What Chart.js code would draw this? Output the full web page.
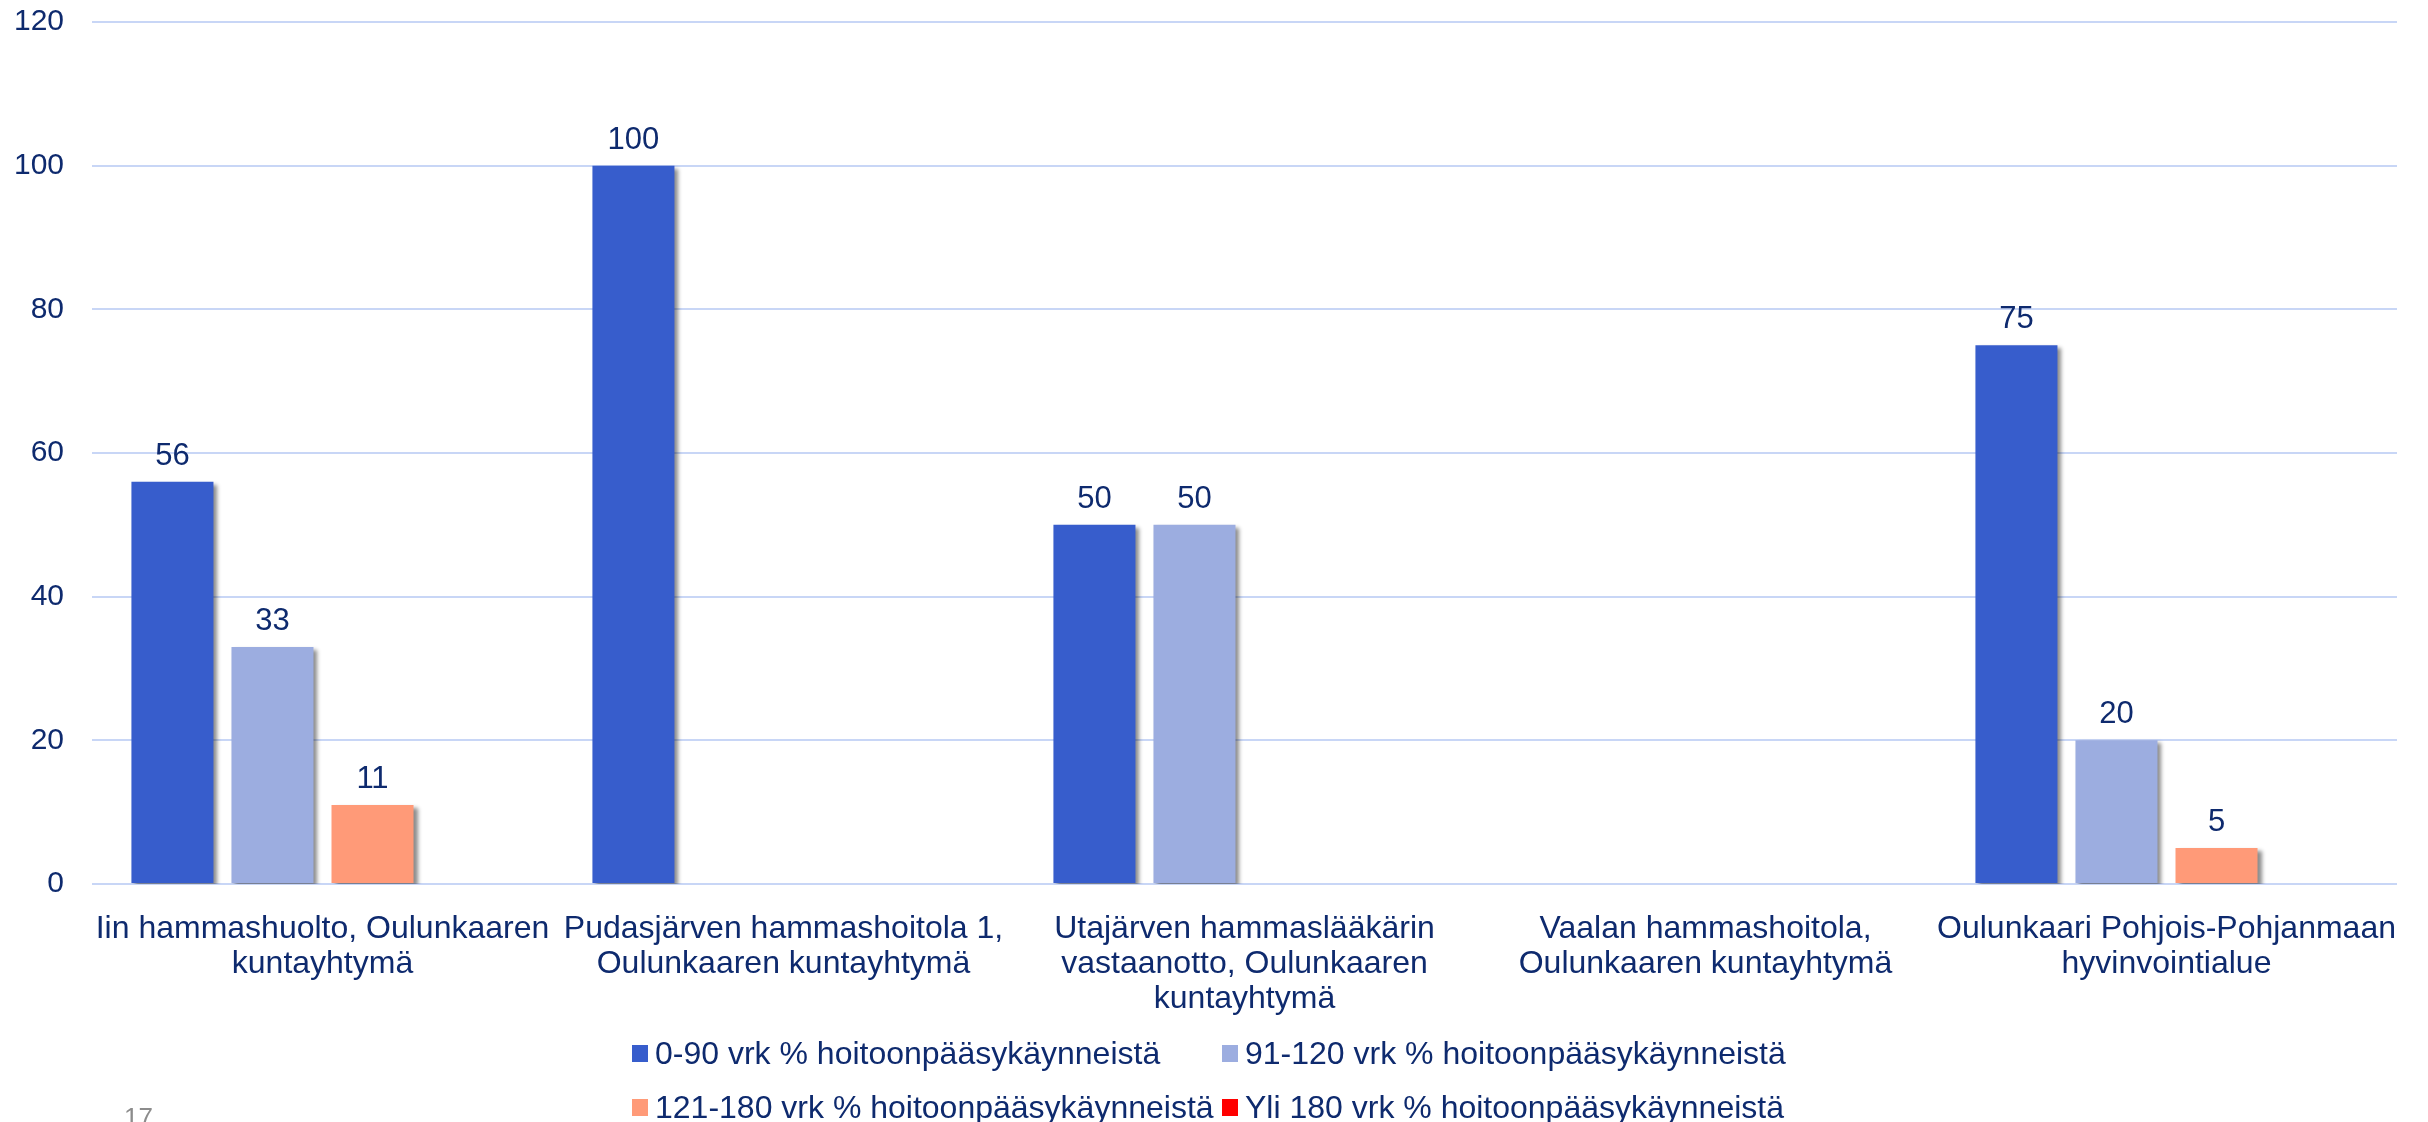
<!DOCTYPE html>
<html lang="fi">
<head>
<meta charset="UTF-8">
<title>Hoitoonpääsy hammashoitoon</title>
<style>
  html, body { margin: 0; padding: 0; background: #fff; }
  .wrap { position: relative; width: 2428px; height: 1122px; overflow: hidden; }
  .page-no {
    position: absolute; left: 124px; top: 1102px;
    font: 26px Arial, "Liberation Sans", sans-serif; color: #8c8c8c;
  }
</style>
</head>
<body>
<div class="wrap">
  <canvas id="chart" width="2428" height="1122"></canvas>
  <div class="page-no">17</div>
</div>

<script src="https://cdn.jsdelivr.net/npm/chart.js"></script>
<script>
// categories (toimipisteet), wrapped as in the original
const categories = [
  ['Iin hammashuolto, Oulunkaaren', 'kuntayhtymä'],
  ['Pudasjärven hammashoitola 1,', 'Oulunkaaren kuntayhtymä'],
  ['Utajärven hammaslääkärin', 'vastaanotto, Oulunkaaren', 'kuntayhtymä'],
  ['Vaalan hammashoitola,', 'Oulunkaaren kuntayhtymä'],
  ['Oulunkaari Pohjois-Pohjanmaan', 'hyvinvointialue']
];

const seriesNames = [
  '0-90 vrk % hoitoonpääsykäynneistä',
  '91-120 vrk % hoitoonpääsykäynneistä',
  '121-180 vrk % hoitoonpääsykäynneistä',
  'Yli 180 vrk % hoitoonpääsykäynneistä'
];

// values (%), null = no bar
const v0_90    = [56, 100, 50, null, 75];
const v91_120  = [33, null, 50, null, 20];
const v121_180 = [11, null, null, null, 5];
const vYli180  = [null, null, null, null, null];

const yTicks = [0, 20, 40, 60, 80, 100, 120];

const seriesColors = ['#375dcc', '#9cade0', '#ff9a78', '#ff0000'];
const textColor = '#0e2a6e';
const fontFamily = 'Arial, "Liberation Sans", sans-serif';

const seriesValues = [v0_90, v91_120, v121_180, vYli180];

// soft shadow behind bars
const barShadow = {
  id: 'barShadow',
  beforeDatasetDraw(chart) {
    const ctx = chart.ctx;
    ctx.save();
    ctx.shadowColor = 'rgba(0,0,0,0.45)';
    ctx.shadowBlur = 4;
    ctx.shadowOffsetX = 4;
    ctx.shadowOffsetY = 3;
  },
  afterDatasetDraw(chart) {
    chart.ctx.restore();
  }
};

// numbers above the bars
const valueLabels = {
  id: 'valueLabels',
  afterDatasetsDraw(chart) {
    const ctx = chart.ctx;
    ctx.save();
    ctx.font = '31px ' + fontFamily;
    ctx.fillStyle = textColor;
    ctx.textAlign = 'center';
    ctx.textBaseline = 'alphabetic';
    chart.data.datasets.forEach((ds, i) => {
      chart.getDatasetMeta(i).data.forEach((bar, j) => {
        const v = ds.data[j];
        if (v === null || v === undefined) return;
        ctx.fillText(v, bar.x, bar.y - 17);
      });
    });
    ctx.restore();
  }
};

// legend laid out in two columns like the original
const gridLegend = {
  id: 'gridLegend',
  afterDraw(chart) {
    const ctx = chart.ctx;
    const colX = [632, 1222];
    const rowY = [1064, 1118];
    ctx.save();
    ctx.font = '32px ' + fontFamily;
    ctx.textBaseline = 'alphabetic';
    chart.data.datasets.forEach((ds, i) => {
      const x = colX[i % 2];
      const y = rowY[Math.floor(i / 2)];
      ctx.fillStyle = ds.backgroundColor;
      ctx.fillRect(x, y - 19, 16, 17);
      ctx.fillStyle = textColor;
      ctx.fillText(ds.label, x + 23, y);
    });
    ctx.restore();
  }
};

new Chart(document.getElementById('chart'), {
  type: 'bar',
  data: {
    labels: categories,
    datasets: seriesNames.map((name, i) => ({
      label: name,
      data: seriesValues[i],
      backgroundColor: seriesColors[i],
      borderWidth: 0,
      categoryPercentage: 0.868,
      barPercentage: 0.82
    }))
  },
  options: {
    responsive: false,
    animation: false,
    devicePixelRatio: 1,
    layout: { padding: { left: 14, right: 31, top: 22, bottom: 85 } },
    plugins: {
      legend: { display: false },
      tooltip: { enabled: false }
    },
    scales: {
      x: {
        grid: { display: false },
        border: { display: false },
        ticks: {
          color: textColor,
          font: { family: fontFamily, size: 32, lineHeight: 1.094 },
          padding: 20,
          maxRotation: 0,
          autoSkip: false
        },
        afterFit(scale) {
          scale.paddingLeft = 0;
          scale.paddingRight = 0;
        }
      },
      y: {
        min: 0,
        max: 120,
        afterBuildTicks(scale) {
          scale.ticks = yTicks.map(v => ({ value: v }));
        },
        afterFit(scale) {
          scale.width = 78;
          scale.paddingTop = 0;
          scale.paddingBottom = 0;
        },
        grid: { color: '#c8d6f6', lineWidth: 2, drawTicks: false },
        border: { display: false },
        ticks: {
          color: textColor,
          font: { family: fontFamily, size: 30 },
          padding: 28
        }
      }
    }
  },
  plugins: [barShadow, valueLabels, gridLegend]
});
</script>
</body>
</html>
